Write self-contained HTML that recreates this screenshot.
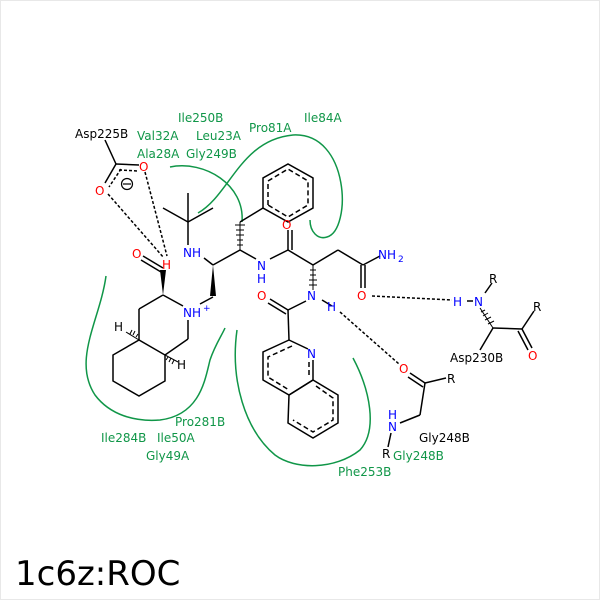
<!DOCTYPE html>
<html><head><meta charset="utf-8"><style>
html,body{margin:0;padding:0;background:#fff}
svg{display:block}
text{font-family:"DejaVu Sans","Liberation Sans",sans-serif;font-size:12px}
.g{fill:#109648}.b{fill:#0000ff}.r{fill:#ff0000}.k{fill:#000}
</style></head><body>
<svg width="600" height="600" viewBox="0 0 600 600" xmlns="http://www.w3.org/2000/svg">
<rect x="0.5" y="0.5" width="599" height="599" fill="#fff" stroke="#e8e8e8"/>
<g fill="none" stroke="#109648" stroke-width="1.5">
<path d="M170,167 C205,160 245,185 242,222"/>
<path d="M198,213 C230,195 240,140 293,135 C350,132 352,230 327,237 C318,240 310,232 310,220"/>
<path d="M106,276 C100,320 72,360 95,395 C110,415 135,422 160,420 C200,415 205,380 210,360 C215,345 222,335 225,328"/>
<path d="M237,330 C230,380 245,430 275,455 C295,470 335,470 360,450 C378,430 370,390 353,358"/>
</g>
<g stroke="#000" stroke-width="1.5" fill="none">
<line x1="105" y1="140" x2="116" y2="164"/>
<line x1="116" y1="164" x2="139" y2="165"/>
<line x1="116" y1="164" x2="105" y2="183"/>
<line x1="119" y1="170" x2="138" y2="171" stroke-dasharray="3,2"/>
<line x1="121" y1="169" x2="109" y2="187" stroke-dasharray="3,2"/>
<line x1="188" y1="193" x2="188" y2="222"/>
<line x1="163" y1="208" x2="188" y2="222"/>
<line x1="213" y1="208" x2="188" y2="222"/>
<line x1="188" y1="222" x2="188" y2="245"/>
<line x1="204" y1="258" x2="213" y2="265"/>
<line x1="213" y1="265" x2="240" y2="250"/>
<line x1="240" y1="250" x2="256" y2="259"/>
<line x1="270" y1="259" x2="288" y2="250"/>
<line x1="288" y1="250" x2="288" y2="230"/>
<line x1="292" y1="250" x2="292" y2="230"/>
<line x1="288" y1="250" x2="313" y2="265"/>
<line x1="313" y1="265" x2="338" y2="250"/>
<line x1="338" y1="250" x2="363" y2="265"/>
<line x1="363" y1="265" x2="380" y2="256"/>
<line x1="361" y1="265" x2="361" y2="288"/>
<line x1="365" y1="265" x2="365" y2="288"/>
<line x1="240" y1="222" x2="263" y2="208"/>
<polygon points="263,208 263,178 288,164 313,178 313,208 288,222" />
<polyline points="268,205 268,181 288,169 308,181 308,205 288,217 268,205" stroke-dasharray="5,3"/>
<line x1="306" y1="301" x2="288" y2="310"/>
<line x1="288" y1="310" x2="270" y2="299"/>
<line x1="286" y1="314" x2="268" y2="303"/>
<line x1="288" y1="310" x2="289" y2="340"/>
<polyline points="289,340 263,352 263,380 289,395 313,380"/>
<line x1="289" y1="340" x2="308" y2="349"/>
<line x1="313" y1="360" x2="313" y2="380"/>
<polyline points="292,346 268,357 268,377 289,390" stroke-dasharray="5,3"/>
<line x1="309" y1="362" x2="309" y2="378" stroke-dasharray="5,3"/>
<polygon points="313,380 338,395 338,423 313,438 288,423 289,395"/>
<polyline points="316,386 333,398 333,420 313,432 293,420" stroke-dasharray="5,3"/>
<line x1="143" y1="256" x2="163" y2="268"/>
<line x1="141" y1="260" x2="161" y2="272"/>
<line x1="163" y1="295" x2="139" y2="309"/>
<line x1="163" y1="295" x2="183" y2="306"/>
<line x1="139" y1="309" x2="139" y2="340"/>
<line x1="188" y1="320" x2="188" y2="339"/>
<line x1="188" y1="339" x2="165" y2="355"/>
<polygon points="139,340 113,355 113,381 139,396 165,381 165,355"/>
<line x1="200" y1="304" x2="213" y2="297"/>
<line x1="332" y1="306" x2="322" y2="300"/>
<line x1="145" y1="172" x2="167" y2="256" stroke-dasharray="3,2"/>
<line x1="108" y1="194" x2="164" y2="258" stroke-dasharray="3,2"/>
<line x1="372" y1="296" x2="452" y2="300" stroke-dasharray="3,2"/>
<line x1="340" y1="312" x2="399" y2="364" stroke-dasharray="3,2"/>
<line x1="467" y1="301" x2="473" y2="301"/>
<line x1="485" y1="293" x2="492" y2="283"/>
<line x1="493" y1="328" x2="522" y2="329"/>
<line x1="522" y1="329" x2="534" y2="311"/>
<line x1="522" y1="329" x2="532" y2="348"/>
<line x1="518" y1="331" x2="528" y2="350"/>
<line x1="493" y1="328" x2="480" y2="350"/>
<line x1="410" y1="373" x2="425" y2="383"/>
<line x1="408" y1="377" x2="423" y2="387"/>
<line x1="425" y1="383" x2="446" y2="378"/>
<line x1="425" y1="383" x2="420" y2="415"/>
<line x1="420" y1="415" x2="400" y2="423"/>
<line x1="391" y1="433" x2="388" y2="447"/>
</g>
<g fill="#000">
<polygon points="163,295 160,270 166,270"/>
<polygon points="213,265 210,296 216,296"/>
</g>
<g stroke="#000" stroke-width="1">
<path d="M240,250 L240,222 M237,245h6 M237,240h6 M236,235h8 M236,230h8 M235,225h10" />
<path d="M313,265 L313,290 M310,270h6 M310,275h6 M309,280h8 M309,285h8" />
<path d="M480,308 L493,328 M481,312l4,-2 M483,316l5,-3 M485,320l6,-3 M488,324l6,-3" />
<path d="M139,340 L126,332 M136,337l2,-3 M133,335l2,-4 M130,334l2,-4" />
<path d="M165,355 L178,362 M168,357l-2,3 M171,358l-2,4 M174,360l-2,4" />
</g>
<circle cx="127" cy="184" r="5.5" fill="none" stroke="#000" stroke-width="1.2"/>
<line x1="123" y1="184" x2="131" y2="184" stroke="#000" stroke-width="1.2"/>
<text x="75" y="138" class="k">Asp225B</text>
<text x="139" y="171" class="r">O</text>
<text x="95" y="195" class="r">O</text>
<text x="132" y="258" class="r">O</text>
<text x="162" y="269" class="r">H</text>
<text x="183" y="257" class="b">NH</text>
<text x="257" y="270" class="b">N</text>
<text x="257" y="283" class="b">H</text>
<text x="282" y="229" class="r">O</text>
<text x="378" y="259" class="b">NH</text><text x="398" y="262" class="b" style="font-size:9px">2</text>
<text x="357" y="300" class="r">O</text>
<text x="307" y="300" class="b">N</text>
<text x="327" y="311" class="b">H</text>
<text x="257" y="300" class="r">O</text>
<text x="307" y="358" class="b">N</text>
<text x="183" y="317" class="b">NH</text><text x="203" y="311" class="b" style="font-size:9px">+</text>
<text x="114" y="331" class="k">H</text>
<text x="177" y="369" class="k">H</text>
<text x="453" y="306" class="b">H</text>
<text x="474" y="306" class="b">N</text>
<text x="489" y="283" class="k">R</text>
<text x="533" y="311" class="k">R</text>
<text x="528" y="360" class="r">O</text>
<text x="450" y="362" class="k">Asp230B</text>
<text x="399" y="373" class="r">O</text>
<text x="447" y="383" class="k">R</text>
<text x="388" y="419" class="b">H</text>
<text x="388" y="431" class="b">N</text>
<text x="382" y="458" class="k">R</text>
<text x="419" y="442" class="k">Gly248B</text>
<text x="393" y="460" class="g">Gly248B</text>
<text x="178" y="122" class="g">Ile250B</text>
<text x="137" y="140" class="g">Val32A</text>
<text x="196" y="140" class="g">Leu23A</text>
<text x="249" y="132" class="g">Pro81A</text>
<text x="304" y="122" class="g">Ile84A</text>
<text x="137" y="158" class="g">Ala28A</text>
<text x="186" y="158" class="g">Gly249B</text>
<text x="175" y="426" class="g">Pro281B</text>
<text x="101" y="442" class="g">Ile284B</text>
<text x="157" y="442" class="g">Ile50A</text>
<text x="146" y="460" class="g">Gly49A</text>
<text x="338" y="476" class="g">Phe253B</text>
<text x="15" y="585" class="k" style="font-size:34px">1c6z:ROC</text>
</svg>
</body></html>
